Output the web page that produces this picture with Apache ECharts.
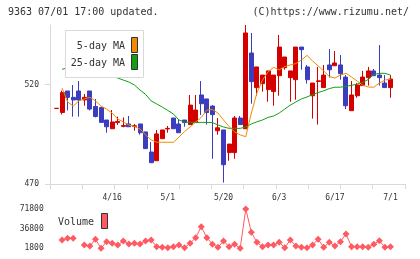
<!DOCTYPE html>
<html>
<head>
<meta charset="utf-8">
<script src="https://cdn.jsdelivr.net/npm/echarts@6/dist/echarts.min.js"></script>
<style>
  html, body { margin: 0; padding: 0; background: #fff; }
  #chart { width: 420px; height: 259px; }
</style>
</head>
<body>
<div id="chart"></div>
<script>
// trading days, 4/2 .. 7/1
var dates = ['4/2','4/3','4/6','4/7','4/8','4/9','4/10','4/13','4/14','4/15',
  '4/16','4/17','4/20','4/21','4/22','4/23','4/24','4/27','4/28','4/30',
  '5/1','5/7','5/8','5/11','5/12','5/13','5/14','5/15','5/18','5/19',
  '5/20','5/21','5/22','5/25','5/26','5/27','5/28','5/29','6/1','6/2',
  '6/3','6/4','6/5','6/8','6/9','6/10','6/11','6/12','6/15','6/16',
  '6/17','6/18','6/19','6/22','6/23','6/24','6/25','6/26','6/29','6/30','7/1'];
var dateLabels = ['4/16','5/1','5/20','6/3','6/17','7/1'];
var priceTicks = [470, 520];
var volumeTicks = [1800, 36800, 71800];

var open = [508, 506, 516.8, 513.6, 516.8, 512.3, 516.8, 509, 508.5, 502.2,
  497.8, 500.9, 499, 500.2, 499, 500.2, 496.2, 486.1, 481.7, 492.8,
  497.7, 503.2, 500.2, 502.2, 499.9, 500.9, 514.8, 512.8, 509.2, 496.8,
  497.2, 485.8, 485.8, 503.2, 497.8, 535.9, 518.5, 520.5, 517.5, 516.5,
  524.5, 528.5, 523.5, 522.5, 538.9, 528.9, 514.4, 521.6, 518.5, 529.9,
  529.5, 529.9, 523.8, 506.9, 514.4, 519.5, 523.5, 526.9, 524.8, 520.8, 518.5];
var close = [508.1, 516, 513.6, 512.3, 512.3, 513.6, 507.7, 504, 501, 498.8,
  501.2, 501.5, 499.4, 498.8, 499.3, 495.8, 487.8, 480.7, 495.2, 497.2,
  498, 497.8, 495.8, 500.9, 509.7, 507.2, 510.4, 505.9, 504.9, 498.3,
  479.7, 490.1, 503.2, 499.9, 546, 521.5, 528.9, 524.8, 526.9, 524.8,
  538.9, 533.9, 526.9, 538.9, 537.6, 522.5, 520.8, 521.9, 524.8, 527.5,
  530.9, 525.5, 509.4, 514.8, 519.8, 523.8, 526.9, 524.5, 523.5, 518.5, 522.8];
var low = [508, 505, 507, 503.9, 503.9, 509.4, 507, 503.5, 501, 495.8,
  497.8, 499.7, 498.5, 498.8, 496.8, 494.8, 487.8, 480.7, 481.7, 492.8,
  495.8, 497.8, 495.8, 498.8, 499.9, 500.9, 504.7, 499.9, 482.7, 494.8,
  470.7, 481.7, 482.7, 499.9, 497.8, 510.4, 514.4, 516.5, 511.4, 509.4,
  514.4, 527.5, 511.4, 512.4, 527.5, 520.5, 502.9, 499.9, 518.5, 523.5,
  529.5, 522.5, 507.7, 506.9, 513.4, 519.5, 519.5, 524.5, 519.5, 518.5, 513.4];
var high = [508.1, 517, 516.8, 519.8, 521.8, 515.3, 516.8, 512.8, 508.5, 502.2,
  507.2, 503.9, 503.5, 504.2, 500.2, 500.2, 496.2, 491.1, 497.2, 497.2,
  499.2, 503.2, 502.2, 502.2, 514.8, 514.8, 521.8, 512.8, 509.7, 503.2,
  497.2, 490.1, 504.2, 504.2, 550, 546, 528.9, 524.8, 526.9, 524.8,
  545, 533.9, 526.9, 538.9, 538.9, 529.9, 520.8, 528.9, 529.9, 537.9,
  536.9, 534.9, 524.8, 521.8, 520.8, 526.9, 528.9, 527.9, 539.9, 524.8, 524.8];
var ma5 = [null, 518.3, 511.3, 509.2, 511.8, 512.8, 513.6, 511.8, 509.2, 507.7,
  505.7, 502.7, 501.2, 499.7, 498.9, 497.7, 494.7, 492.2, 491, 491,
  491, 491, 493.6, 496.4, 498.7, 501.2, 503.5, 507.2, 507.5, 505.7,
  502.2, 498.9, 496.2, 494.7, 493.8, 505.7, 515.8, 522.3, 526.4, 528.7,
  527.4, 529.1, 529.9, 530.6, 532.4, 534.7, 531.9, 529.4, 526.9, 524.1,
  523.3, 524.8, 525.7, 523.8, 521.8, 519.8, 518.8, 518.7, 520.8, 522.3, 522.7];
var ma25 = [null, 527.7, 528.5, 529, 529.5, 529.5, 529, 528.5, 527.5, 526.5,
  525, 523.3, 522.3, 521.3, 519.8, 517.3, 515.1, 511.8, 510.3, 508.7,
  507, 505.2, 502.2, 501.2, 501, 501, 501, 501, 500.9, 499.7,
  498.7, 498, 498, 498, 498.7, 500.2, 501.3, 502.2, 503.5, 504.2,
  505.7, 507.7, 509.7, 511.3, 512.8, 513.8, 515, 516, 516.9, 518,
  518.7, 518.7, 519.2, 519.6, 520.3, 521.1, 522.6, 525.1, 525.7, 525.7, 524.8];
var volume = [null, 16600, 19600, 19600, null, 7700, 5900, 17800, 1800, 13600,
  10700, 7700, 14800, 9500, 10700, 9500, 14800, 16600, 4600, 3600,
  3000, 4600, 7700, 3000, 10700, 20700, 40300, 20700, 8900, 3600,
  14800, 4600, 8900, 1900, 71800, 30300, 12500, 4600, 7700, 7700,
  12500, 3000, 16600, 5900, 3600, 3000, 7700, 17800, 3600, 12500,
  5900, 13600, 27300, 4600, 4600, 4600, 3600, 8900, 15400, 3600, 4600];

var candles = dates.map(function (d, i) {
  return [open[i], close[i], low[i], high[i]];
});

var mono = 'DejaVu Sans Mono';
var axisGrey = '#d9d9d9';
var textColor = '#333';
var upColor = '#d40000';
var downColor = '#3c3cbe';
var ma5Color = '#f08a00';
var ma25Color = '#12a012';
var volColor = '#ff5a62';

// candle slot width, data grid placed so that slots line up with the frame
var slot = 5.567;
var dataLeft = 56.5 - slot / 2;
var dataWidth = slot * dates.length;

var chart = echarts.init(document.getElementById('chart'));
chart.setOption({
  animation: false,
  grid: [
    // frame of price chart (axis lines and ticks)
    { left: 50, top: 25, width: 355, height: 159 },
    // price data
    { left: dataLeft, top: 25, width: dataWidth, height: 159 },
    // volume data
    { left: dataLeft, top: 209, width: dataWidth, height: 39.3 }
  ],
  xAxis: [
    {
      gridIndex: 0, type: 'value', min: 0, max: 11, interval: 1,
      axisLine: { show: true, lineStyle: { color: axisGrey } },
      axisTick: { show: true, length: 5, lineStyle: { color: axisGrey } },
      axisLabel: { show: false },
      splitLine: { show: false }
    },
    {
      gridIndex: 1, type: 'category', data: dates, boundaryGap: true,
      axisLine: { show: false },
      axisTick: { show: false },
      axisLabel: {
        margin: 10,
        fontFamily: mono, fontSize: 8, color: textColor,
        interval: function (index, value) { return dateLabels.indexOf(value) >= 0; }
      }
    },
    {
      gridIndex: 2, type: 'category', data: dates, boundaryGap: true,
      show: false
    }
  ],
  yAxis: [
    {
      gridIndex: 0, type: 'value', min: 470, max: 550,
      axisLine: { show: true, lineStyle: { color: axisGrey } },
      axisTick: { show: true, length: 5, customValues: priceTicks, lineStyle: { color: axisGrey } },
      axisLabel: { customValues: priceTicks, margin: 11, fontFamily: mono, fontSize: 8, color: textColor },
      splitLine: { show: false }
    },
    {
      gridIndex: 1, type: 'value', min: 470, max: 550, show: false
    },
    {
      gridIndex: 2, type: 'value', min: 1800, max: 71800,
      axisLine: { show: false },
      axisTick: { show: false },
      axisLabel: {
        customValues: volumeTicks, margin: 10,
        fontFamily: mono, fontSize: 8, color: textColor,
        formatter: function (v) { return String(v); }
      },
      splitLine: { show: false }
    }
  ],
  series: [
    {
      name: 'price', type: 'candlestick',
      xAxisIndex: 1, yAxisIndex: 1,
      barWidth: 4.5,
      data: candles,
      itemStyle: {
        color: upColor, color0: downColor,
        borderColor: upColor, borderColor0: downColor,
        borderWidth: 1
      }
    },
    {
      name: '25-day MA', type: 'line', xAxisIndex: 1, yAxisIndex: 1,
      data: ma25, symbol: 'none',
      lineStyle: { color: ma25Color, width: 1 }
    },
    {
      name: '5-day MA', type: 'line', xAxisIndex: 1, yAxisIndex: 1,
      data: ma5, symbol: 'none',
      lineStyle: { color: ma5Color, width: 1 }
    },
    {
      name: 'Volume', type: 'line', xAxisIndex: 2, yAxisIndex: 2,
      data: volume, symbol: 'diamond', symbolSize: 7,
      showAllSymbol: true,
      clip: false,
      itemStyle: { color: volColor },
      lineStyle: { color: volColor, width: 1 }
    }
  ],
  graphic: [
    { type: 'text', left: 8, top: 7, z: 100,
      style: { text: '9363 07/01 17:00 updated.', font: '10px ' + mono, fill: textColor } },
    { type: 'text', right: 11, top: 7, z: 100,
      style: { text: '(C)https://www.rizumu.net/', font: '10px ' + mono, fill: textColor } },
    // MA legend box
    { type: 'rect', z: 100, shape: { x: 65.5, y: 30.5, width: 78, height: 47 },
      style: { fill: '#fff', stroke: '#d9d9d9', lineWidth: 1 } },
    { type: 'text', z: 101, x: 125, y: 46,
      style: { text: '5-day MA', font: '10px ' + mono, fill: textColor, align: 'right', verticalAlign: 'middle' } },
    { type: 'text', z: 101, x: 125, y: 63,
      style: { text: '25-day MA', font: '10px ' + mono, fill: textColor, align: 'right', verticalAlign: 'middle' } },
    { type: 'rect', z: 101, shape: { x: 131.5, y: 37.5, width: 6, height: 15 },
      style: { fill: ma5Color, stroke: '#333', lineWidth: 1 } },
    { type: 'rect', z: 101, shape: { x: 131.5, y: 54.5, width: 6, height: 15 },
      style: { fill: ma25Color, stroke: '#333', lineWidth: 1 } },
    // volume legend
    { type: 'text', z: 101, x: 58, y: 222,
      style: { text: 'Volume', font: '10px ' + mono, fill: textColor, verticalAlign: 'middle' } },
    { type: 'rect', z: 101, shape: { x: 101.5, y: 213.5, width: 6, height: 15 },
      style: { fill: volColor, stroke: '#333', lineWidth: 1 } }
  ]
});
</script>
</body>
</html>
